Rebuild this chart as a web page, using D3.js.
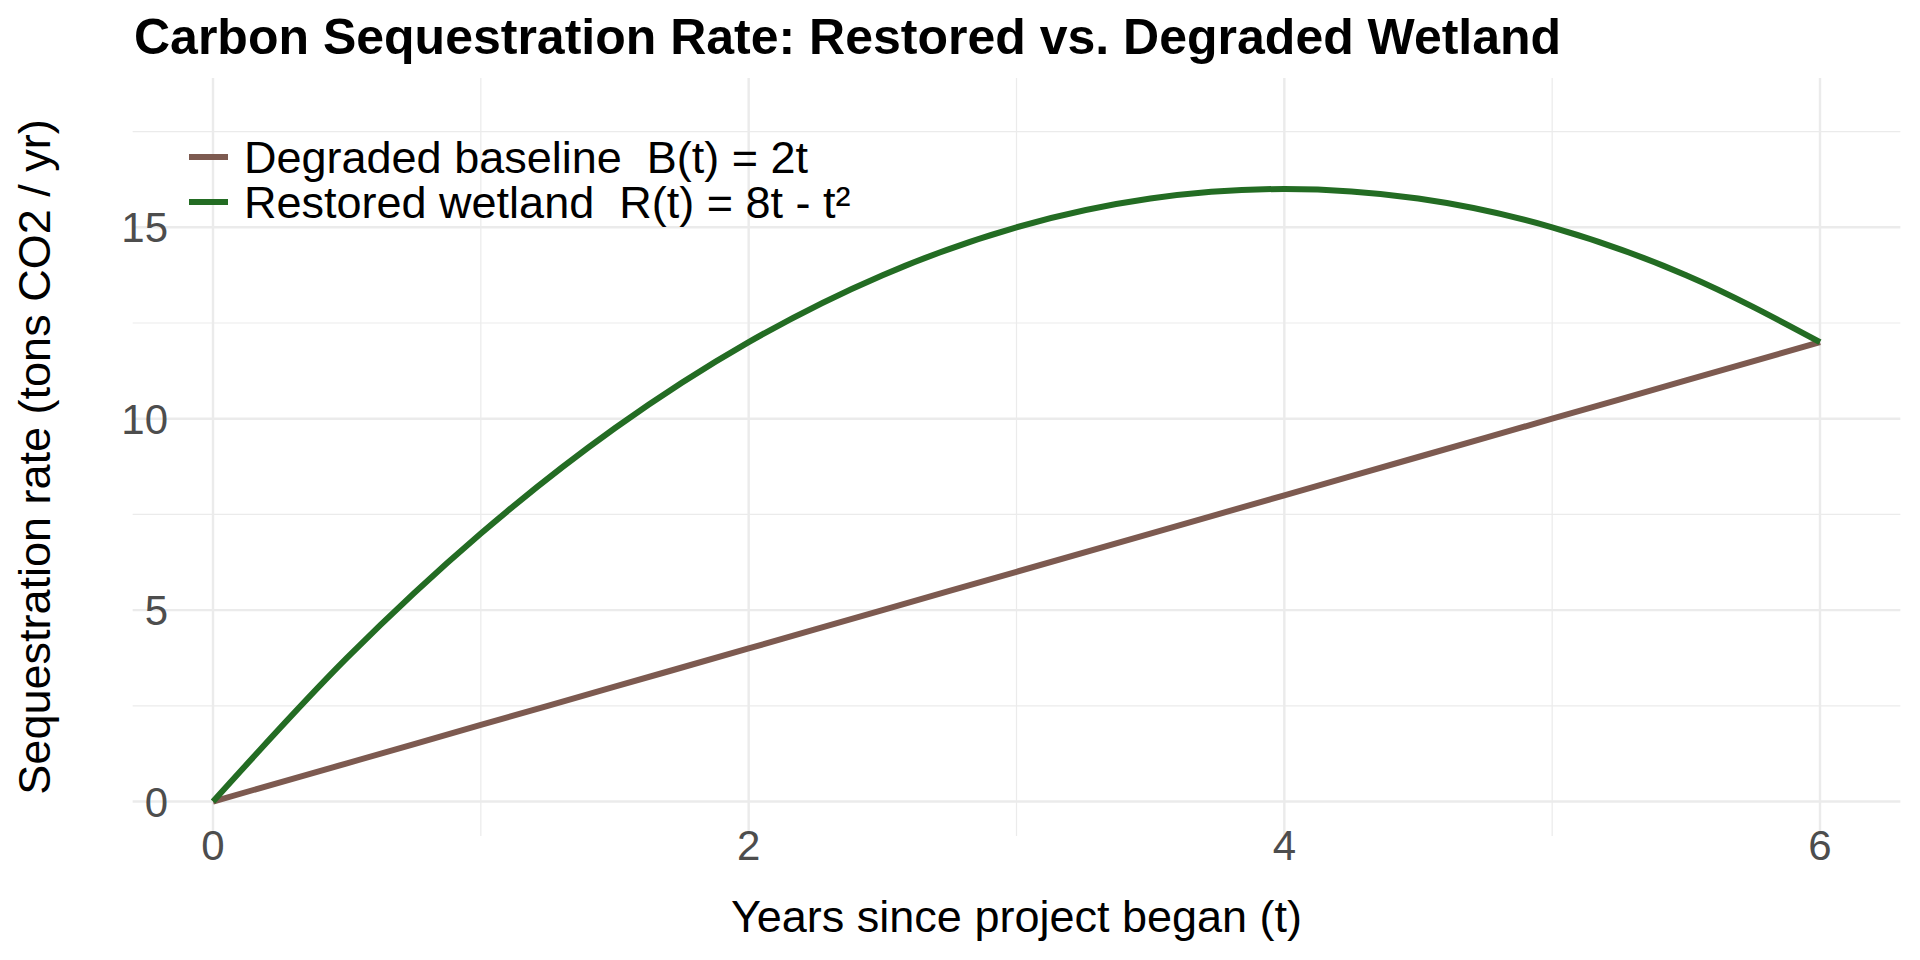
<!DOCTYPE html>
<html><head><meta charset="utf-8">
<script src="https://cdn.jsdelivr.net/npm/d3@7"></script>
<style>body{margin:0;background:#fff}text{font-family:"Liberation Sans",Arial,sans-serif;white-space:pre}</style>
</head><body><svg id="c" width="1920" height="960"></svg>
<script>
var years = [0, 0.5, 1, 1.5, 2, 2.5, 3, 3.5, 4, 4.5, 5, 5.5, 6];
var restored = [0, 3.75, 7, 9.75, 12, 13.75, 15, 15.75, 16, 15.75, 15, 13.75, 12];
var degraded = [0, 1, 2, 3, 4, 5, 6, 7, 8, 9, 10, 11, 12];
var xTicks = [0, 2, 4, 6], yTicks = [0, 5, 10, 15];
var seriesNames = ["Degraded baseline  B(t) = 2t", "Restored wetland  R(t) = 8t - t\u00b2"];
var colors = ["#7d5a50", "#236c23"];

var svg = d3.select("#c");
var x = d3.scaleLinear().domain([0, 6]).range([213, 1820]);
var y = d3.scaleLinear().domain([-0.9, 18.9]).range([836, 78]);
var x0 = x(-0.3), x1 = x(6.3);

var g = svg.append("g");
d3.range(0, 6.5, 1).forEach(function(t){
  g.append("line").attr("x1", x(t)).attr("x2", x(t)).attr("y1", y(18.9)).attr("y2", y(-0.9))
    .attr("stroke", "#ebebeb").attr("stroke-width", t % 2 ? 1.2 : 2.4);
});
d3.range(0, 18, 2.5).forEach(function(v){
  g.append("line").attr("x1", x0).attr("x2", x1).attr("y1", y(v)).attr("y2", y(v))
    .attr("stroke", "#ebebeb").attr("stroke-width", v % 5 ? 1.2 : 2.4);
});

xTicks.forEach(function(t){
  svg.append("text").attr("x", x(t)).attr("y", 860).attr("text-anchor", "middle")
    .attr("font-size", 42).attr("fill", "#4d4d4d").text(t);
});
yTicks.forEach(function(v){
  svg.append("text").attr("x", 168).attr("y", y(v) + 15).attr("text-anchor", "end")
    .attr("font-size", 42).attr("fill", "#4d4d4d").text(v);
});

var line = d3.line().curve(d3.curveMonotoneX);
[degraded, restored].forEach(function(vals, i){
  svg.append("path").attr("d", line(years.map(function(t, j){ return [x(t), y(vals[j])]; })))
    .attr("fill", "none").attr("stroke", colors[i]).attr("stroke-width", 6);
});

seriesNames.forEach(function(n, i){
  var yy = 157 + i * 45;
  svg.append("line").attr("x1", 189).attr("x2", 228).attr("y1", yy).attr("y2", yy)
    .attr("stroke", colors[i]).attr("stroke-width", 6);
  svg.append("text").attr("x", 244).attr("y", yy + 16).attr("font-size", 45).text(n);
});

svg.append("text").attr("x", 134).attr("y", 54).attr("font-size", 50).attr("font-weight", "bold")
  .text("Carbon Sequestration Rate: Restored vs. Degraded Wetland");
svg.append("text").attr("x", x(3)).attr("y", 932).attr("text-anchor", "middle").attr("font-size", 45)
  .text("Years since project began (t)");
svg.append("text").attr("transform", "translate(50," + y(9) + ") rotate(-90)").attr("text-anchor", "middle")
  .attr("font-size", 45).text("Sequestration rate (tons CO2 / yr)");
</script></body></html>
